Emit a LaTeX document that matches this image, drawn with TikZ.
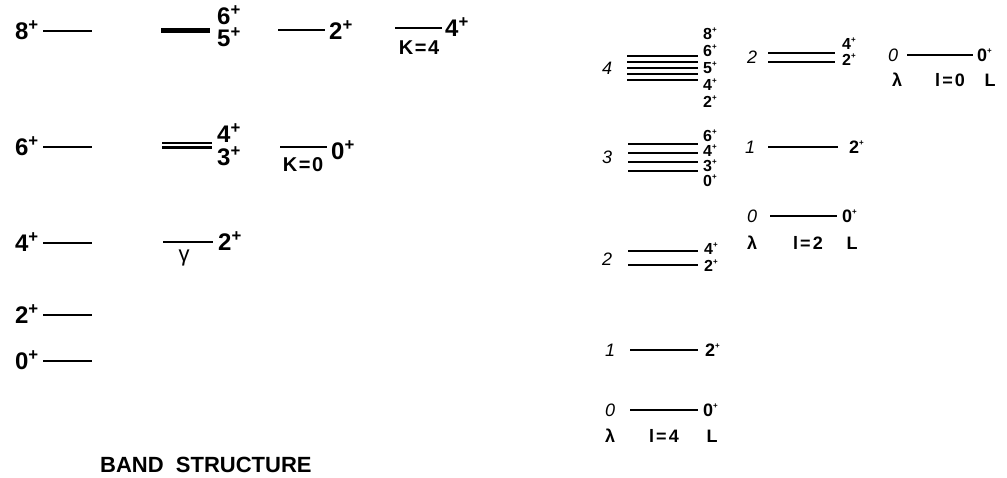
\documentclass[tikz,border=0pt]{standalone}
\usepackage{fontspec}
\setmainfont{Liberation Sans}
\newcommand\jp[1]{#1\textsuperscript{+}}
\newcommand\jq[1]{#1\raisebox{0.42em}{\fontsize{8}{8}\selectfont\bfseries +}}
\begin{document}
\begin{tikzpicture}[x=1pt,y=-1pt,
  lvl/.style={line width=2.5pt},
  rlvl/.style={line width=1.8pt},
  big/.style={font=\fontsize{24}{24}\selectfont\bfseries, inner sep=0pt},
  kk/.style={font=\fontsize{20}{20}\selectfont\bfseries, inner sep=0pt},
  band/.style={font=\fontsize{22}{22}\selectfont\bfseries, inner sep=0pt},
  med/.style={font=\fontsize{18}{18}\selectfont\bfseries, inner sep=0pt},
  rnum/.style={font=\fontsize{18}{18}\selectfont\itshape, inner sep=0pt},
  sml/.style={font=\fontsize{16}{16}\selectfont\bfseries, inner sep=0pt}]
\useasboundingbox (0,0) rectangle (1007,478);

% ---------- left: ground band ----------
\foreach \n/\y in {8/31,6/147,4/243,2/315,0/361}{
  \node[big, anchor=base east] (g\n) at (39,\y+8.6) {\jp{\n}};
  \draw[lvl] (43,\y) -- (92,\y);
}

% ---------- middle ----------
\draw[lvl] (161,29.5) -- (210,29.5);
\draw[lvl] (161,32) -- (210,32);
\node[big, anchor=base west] (m6) at (217,25) {\jp6};
\node[big, anchor=base west] (m5) at (217,47) {\jp5};

\draw[lvl] (162,143) -- (212,143);
\draw[lvl] (162,147.5) -- (212,147.5);
\node[big, anchor=base west] (m4) at (217,143) {\jp4};
\node[big, anchor=base west] (m3) at (217,166) {\jp3};

\draw[lvl] (163,242) -- (213,242);
\node[big, anchor=base west] (m2) at (218,251) {\jp2};
\node[font=\fontsize{22}{22}\selectfont, inner sep=0pt] (gam) at (184,258) {γ};

% ---------- third column ----------
\draw[lvl] (278,30) -- (325,30);
\node[big, anchor=base west] (t2) at (329,39.5) {\jp2};

\draw[lvl] (280,147) -- (327,147);
\node[big, anchor=base west] (t0) at (331,160) {\jp0};
\node[kk] (k0) at (303,165) {K\kern1.5pt=\kern1.5pt0};

\draw[lvl] (395,28) -- (442,28);
\node[big, anchor=base west] (f4) at (445,37) {\jp4};
\node[kk] (k4) at (419,48) {K\kern1.5pt=\kern1.5pt4};

\node[band, anchor=base west] (bs) at (100,472) {BAND\ \ STRUCTURE};

% ---------- right: l=4 ----------
\node[rnum] (a4) at (607,68) {4};
\foreach \y in {56,62,68,74,80}{\draw[rlvl] (627,\y) -- (698,\y);}
\foreach \n/\y [count=\i] in {8/34,6/51,5/68,4/85,2/102}{
  \node[sml, anchor=base west] (a4l\i) at (703,\y+5.7) {\jq{\n}};
}

\node[rnum] (a3) at (607,157) {3};
\foreach \y in {144,153,162,171}{\draw[rlvl] (628,\y) -- (698,\y);}
\foreach \n/\y [count=\i] in {6/136,4/151,3/166,0/181}{
  \node[sml, anchor=base west] (a3l\i) at (703,\y+5.7) {\jq{\n}};
}

\node[rnum] (a2) at (607,259) {2};
\draw[rlvl] (628,251) -- (698,251);
\draw[rlvl] (628,265) -- (698,265);
\node[sml, anchor=base west] (a2l1) at (704,249+5.7) {\jq4};
\node[sml, anchor=base west] (a2l2) at (704,266+5.7) {\jq2};

\node[rnum] (a1) at (610,350) {1};
\draw[rlvl] (630,350) -- (698,350);
\node[med, anchor=base west] (a1l) at (705,356.4) {\jq2};

\node[rnum] (a0) at (610,410) {0};
\draw[rlvl] (630,410) -- (698,410);
\node[med, anchor=base west] (a0l) at (703,416.4) {\jq0};

\node[med] (alam) at (610,436) {λ};
\node[med] (aell) at (664,436) {l\kern2pt=\kern2pt4};
\node[med] (aL) at (712,436) {L};

% ---------- right: l=2 ----------
\node[rnum] (b2) at (752,57) {2};
\draw[rlvl] (768,53) -- (835,53);
\draw[rlvl] (768,62) -- (835,62);
\node[sml, anchor=base west] (b2l1) at (842,44+5.7) {\jq4};
\node[sml, anchor=base west] (b2l2) at (842,60+5.7) {\jq2};

\node[rnum] (b1) at (750,147) {1};
\draw[rlvl] (768,147) -- (838,147);
\node[med, anchor=base west] (b1l) at (849,153.4) {\jq2};

\node[rnum] (b0) at (752,216) {0};
\draw[rlvl] (770,216) -- (837,216);
\node[med, anchor=base west] (b0l) at (842,222.4) {\jq0};

\node[med] (blam) at (752,243) {λ};
\node[med] (bell) at (808,243) {l\kern2pt=\kern2pt2};
\node[med] (bL) at (852,243) {L};

% ---------- right: l=0 ----------
\node[rnum] (c0) at (893,55) {0};
\draw[rlvl] (907,55) -- (973,55);
\node[med, anchor=base west] (c0l) at (977,61.4) {\jq0};

\node[med] (clam) at (897,80) {λ};
\node[med] (cell) at (950,80) {l\kern2pt=\kern2pt0};
\node[med] (cL) at (990,80) {L};
\end{tikzpicture}
\end{document}
